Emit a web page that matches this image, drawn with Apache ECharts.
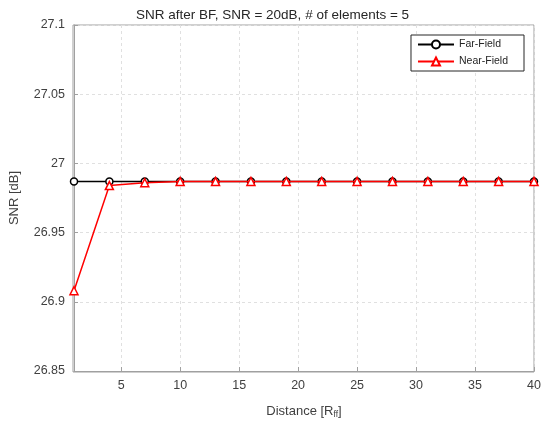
<!DOCTYPE html>
<html>
<head>
<meta charset="utf-8">
<script src="https://cdn.jsdelivr.net/npm/echarts@6/dist/echarts.min.js"></script>
<style>html,body{margin:0;padding:0;background:#fff;}#c{width:545px;height:424px;}</style>
</head>
<body>
<div id="c"></div>
<script>
var distances = [1, 4, 7, 10, 13, 16, 19, 22, 25, 28, 31, 34, 37, 40];
var farField = [26.987, 26.987, 26.987, 26.987, 26.987, 26.987, 26.987, 26.987, 26.987, 26.987, 26.987, 26.987, 26.987, 26.987];
var nearField = [26.908, 26.984, 26.986, 26.987, 26.987, 26.987, 26.987, 26.987, 26.987, 26.987, 26.987, 26.987, 26.987, 26.987];
var xTicks = [5, 10, 15, 20, 25, 30, 35, 40];

var font = 'Liberation Sans, Arial, sans-serif';
var chart = echarts.init(document.getElementById('c'));
function pairs(xs, ys) { return xs.map(function (x, i) { return [x, ys[i]]; }); }
chart.setOption({
  animation: false,
  backgroundColor: '#ffffff',
  title: {
    text: 'SNR after BF, SNR = 20dB, # of elements = 5',
    left: 'center', top: 3,
    textStyle: { fontFamily: font, fontSize: 13.5, fontWeight: 'normal', color: '#262626' }
  },
  grid: { left: 73, right: 11, top: 25, bottom: 52, containLabel: false },
  legend: {
    right: 21, top: 35, orient: 'vertical',
    backgroundColor: '#fff', borderColor: '#262626', borderWidth: 1, borderRadius: 0,
    padding: [4, 16, 4, 6], itemGap: 6, itemWidth: 36, itemHeight: 10,
    textStyle: { fontFamily: font, fontSize: 10.5, color: '#262626' },
    data: ['Far-Field', 'Near-Field']
  },
  xAxis: {
    type: 'value', min: 1, max: 40,
    name: 'Distance [R{sub|ff}]', nameLocation: 'middle', nameGap: 32,
    nameTextStyle: { fontFamily: font, fontSize: 13, color: '#404040',
      rich: { sub: { fontFamily: font, fontSize: 8.5, color: '#404040', verticalAlign: 'bottom', padding: [7, 0, 0, 0] } } },
    axisLine: { show: true, lineStyle: { color: '#a0a0a0', width: 1 } },
    axisTick: { show: true, inside: true, length: 4, customValues: xTicks, lineStyle: { color: '#a0a0a0' } },
    axisLabel: { customValues: xTicks, fontFamily: font, fontSize: 12.5, color: '#404040', margin: 8 },
    splitLine: { show: true, lineStyle: { color: '#e0e0e0', type: [3, 3], width: 1 } }
  },
  yAxis: {
    type: 'value', min: 26.85, max: 27.1, interval: 0.05,
    name: 'SNR [dB]', nameLocation: 'middle', nameGap: 53,
    nameTextStyle: { fontFamily: font, fontSize: 13, color: '#404040' },
    axisLine: { show: true, lineStyle: { color: '#a0a0a0', width: 1 } },
    axisTick: { show: true, inside: true, length: 4, lineStyle: { color: '#a0a0a0' } },
    axisLabel: { fontFamily: font, fontSize: 12.5, color: '#404040', margin: 9,
      formatter: function (v) { return String(Math.round(v * 100) / 100); } },
    splitLine: { show: true, lineStyle: { color: '#e0e0e0', type: [3, 3], width: 1 } }
  },
  graphic: [{
    type: 'rect', silent: true, z: 0,
    shape: { x: 73, y: 25, width: 461, height: 347 },
    style: { fill: 'none', stroke: '#a0a0a0', lineWidth: 1 }
  }],
  series: [
    {
      name: 'Far-Field', type: 'line', data: pairs(distances, farField),
      symbol: 'circle', symbolSize: 7, showAllSymbol: true,
      lineStyle: { color: '#000000', width: 1.5 },
      itemStyle: { color: '#ffffff', borderColor: '#000000', borderWidth: 1.5 },
      z: 2
    },
    {
      name: 'Near-Field', type: 'line', data: pairs(distances, nearField),
      symbol: 'triangle', symbolSize: 8, showAllSymbol: true,
      lineStyle: { color: '#ff0000', width: 1.5 },
      itemStyle: { color: '#ffffff', borderColor: '#ff0000', borderWidth: 1.5 },
      z: 3
    }
  ]
});
</script>
</body>
</html>
